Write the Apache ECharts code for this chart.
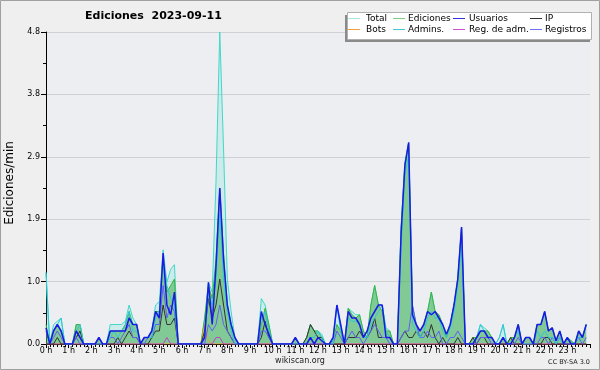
<!DOCTYPE html>
<html><head><meta charset="utf-8">
<script src="https://cdn.jsdelivr.net/npm/echarts@6/dist/echarts.min.js"></script>
<style>html,body{margin:0;padding:0;background:#efefef}#c{width:600px;height:370px}</style>
</head><body><div id="c"></div>
<script>
// 10-minute slots, 6 per hour, 24 hours
const hourLabels = ['0','1','2','3','4','5','6','7','8','9','10','11','12','13','14','15','16','17','18','19','20','21','22','23'];
const yTicks = [0, 0.96, 1.92, 2.88, 3.84, 4.8];
const legendNames = ['Total', 'Ediciones', 'Usuarios', 'IP', 'Bots', 'Admins.', 'Reg. de adm.', 'Registros'];

const total = [
1.1,0,0.3,0.35,0.4,0, 0,0,0.3,0.3,0,0, 0,0,0.1,0,0,0.3, 0.3,0.3,0.3,0.35,0.6,0.4,
0.3,0,0.1,0.1,0.2,0.6, 0.65,1.45,0.95,1.15,1.22,0, 0,0,0,0,0,0, 0.4,0.95,0.8,2.5,4.8,3.0,
1.0,0.5,0.1,0,0,0, 0,0,0,0.7,0.6,0.3, 0,0,0,0,0,0, 0.1,0,0,0.1,0.3,0.2,
0.2,0.15,0,0,0.1,0.6, 0.3,0,0.55,0.5,0.45,0.45, 0.2,0.1,0.6,0.9,0.6,0.6, 0.25,0.2,0,0,1.8,2.8,
3.1,0.5,0.3,0.2,0.3,0.5, 0.8,0.5,0.45,0.3,0.15,0.3, 0.6,1.0,1.8,0,0,0.1, 0.1,0.3,0.25,0.2,0.1,0,
0.1,0.3,0,0.1,0.1,0.3, 0,0.1,0.1,0,0.3,0.3, 0.5,0.2,0.25,0.05,0.2,0, 0.1,0.05,0,0.2,0.1,0.3];
const ediciones = [
0.3,0,0.2,0.3,0.2,0, 0,0,0.3,0.3,0,0, 0,0,0.1,0,0,0.2, 0.2,0.2,0.2,0.3,0.5,0.3,
0.3,0,0.1,0.1,0.2,0.5, 0.5,1.35,0.8,0.9,1.0,0, 0,0,0,0,0,0, 0.4,0.9,0.7,1.3,2.4,1.4,
0.6,0.3,0.1,0,0,0, 0,0,0,0.3,0.55,0.3, 0,0,0,0,0,0, 0.1,0,0,0.1,0.3,0.2,
0.2,0.1,0,0,0.05,0.3, 0.2,0,0.55,0.45,0.4,0.45, 0.2,0.1,0.6,0.9,0.6,0.5, 0.2,0.2,0,0,1.8,2.75,
3.1,0.6,0.3,0.2,0.3,0.5, 0.8,0.5,0.45,0.3,0.1,0.3, 0.6,1.0,1.8,0,0,0.1, 0.1,0.2,0.2,0.2,0.1,0,
0,0.1,0,0.1,0.1,0.3, 0,0.1,0.1,0,0.3,0.3, 0.5,0.2,0.25,0.05,0.2,0, 0.1,0.05,0,0.2,0.1,0.3];
const usuarios = [
0.25,0,0.2,0.3,0.2,0, 0,0,0.2,0.1,0,0, 0,0,0.1,0,0,0.2, 0.2,0.2,0.2,0.2,0.4,0.3,
0.3,0,0.1,0.1,0.2,0.5, 0.4,1.4,0.6,0.45,0.8,0, 0,0,0,0,0,0, 0.1,0.95,0.3,1.2,2.4,1.3,
0.6,0.3,0.1,0,0,0, 0,0,0,0.5,0.3,0.15, 0,0,0,0,0,0, 0.1,0,0,0,0.1,0,
0.1,0.05,0,0,0.1,0.6, 0.3,0,0.5,0.4,0.4,0.3, 0.1,0.2,0.4,0.5,0.6,0.6, 0.1,0.1,0,0,1.7,2.75,
3.1,0.45,0.3,0.2,0.3,0.5, 0.45,0.5,0.4,0.3,0.15,0.3, 0.6,1.0,1.8,0,0,0, 0.1,0.2,0.2,0.1,0.1,0,
0,0.1,0,0,0.1,0.3, 0,0.1,0.1,0,0.3,0.3, 0.5,0.2,0.25,0.05,0.2,0, 0.1,0,0,0.2,0.1,0.3];
const ip = [
0,0,0,0.1,0,0, 0,0,0.1,0.2,0,0, 0,0,0,0,0,0, 0,0.1,0,0.1,0.2,0.1,
0.1,0,0,0,0.1,0.2, 0.2,0.6,0.3,0.3,0.4,0, 0,0,0,0,0,0, 0.2,0.7,0.4,0.6,1.0,0.6,
0.2,0.1,0,0,0,0, 0,0,0,0.1,0.35,0.1, 0,0,0,0,0,0, 0,0,0,0.1,0.3,0.2,
0.1,0.1,0,0,0,0, 0,0,0.1,0.1,0.1,0.2, 0.1,0.1,0.2,0.4,0.1,0.1, 0.1,0.1,0,0,0.1,0.2,
0.1,0.1,0.2,0.1,0.2,0.1, 0.3,0.1,0,0.1,0,0, 0,0.1,0,0,0,0.1, 0,0.1,0.1,0,0,0,
0,0,0,0.1,0,0, 0,0.1,0.1,0,0,0, 0.1,0.1,0,0,0,0, 0,0,0,0,0,0];
const bots = [
0,0,0,0,0,0, 0,0,0,0,0,0, 0,0,0,0,0,0, 0,0,0,0,0,0,
0,0,0,0,0,0, 0,0,0,0,0,0, 0,0,0,0,0,0, 0.3,0.05,0,0,0,0,
0,0,0,0,0,0, 0,0,0,0,0,0, 0,0,0,0,0,0, 0,0,0,0,0,0,
0,0,0,0,0,0, 0,0,0,0,0,0, 0,0,0,0,0,0, 0,0,0,0,0,0,
0,0,0,0,0,0, 0,0,0,0,0,0, 0,0,0,0,0,0, 0,0,0,0,0,0,
0,0,0,0,0,0, 0,0,0,0,0,0, 0,0,0,0,0,0, 0,0,0,0,0,0];
const admins = [
1.1,0,0.2,0.3,0.4,0, 0,0,0.2,0.3,0,0, 0,0,0,0,0,0.1, 0.2,0.1,0.2,0.3,0.5,0.2,
0.2,0,0.1,0.1,0.1,0.4, 0.5,1.3,0.9,0.7,0.6,0, 0,0,0,0,0,0, 0.1,0.8,0.6,1.0,2.0,1.0,
0.5,0.2,0,0,0,0, 0,0,0,0.4,0.5,0.2, 0,0,0,0,0,0, 0,0,0,0,0.1,0.1,
0.2,0.1,0,0,0,0.6, 0.2,0,0.4,0.35,0.35,0.3, 0.1,0.1,0.3,0.4,0.5,0.6, 0.2,0.1,0,0,1.5,2.6,
2.9,0.3,0.2,0.1,0.2,0.4, 0.5,0.4,0.4,0.2,0.1,0.25, 0.5,0.9,1.5,0,0,0, 0.1,0.3,0.2,0.1,0.1,0,
0.1,0.3,0,0,0.1,0.2, 0,0,0,0,0.2,0.1, 0.2,0.1,0.1,0,0.1,0, 0.1,0,0,0.1,0.1,0.3];
const regAdm = [
0,0,0,0,0,0, 0,0,0,0,0,0, 0,0,0,0,0,0, 0,0,0,0,0,0,
0,0,0,0,0,0, 0,0,0.1,0,0,0, 0,0,0,0,0,0, 0,0,0,0.1,0.1,0,
0,0,0,0,0,0, 0,0,0,0,0,0, 0,0,0,0,0,0, 0,0,0,0,0,0,
0,0,0,0,0,0, 0,0,0,0,0,0, 0,0,0,0,0,0, 0,0,0,0,0,0,
0,0,0,0,0,0, 0,0,0,0,0,0, 0,0,0,0,0,0, 0,0,0,0,0,0,
0,0,0,0,0,0, 0,0,0,0,0,0, 0,0,0,0,0,0, 0,0,0,0,0,0];
const registros = [
0.2,0,0.1,0.2,0.1,0, 0,0,0.1,0,0,0, 0,0,0,0,0,0.1, 0.1,0,0.1,0.2,0.3,0.1,
0.1,0,0,0.1,0.1,0.3, 0.3,0.9,0.4,0.6,0.5,0, 0,0,0,0,0,0, 0,0.3,0.2,0.3,0.6,0.3,
0.2,0.1,0,0,0,0, 0,0,0,0.2,0.2,0.1, 0,0,0,0,0,0, 0,0,0,0,0,0,
0,0,0,0,0,0.2, 0.1,0,0.1,0.2,0.1,0.1, 0,0.1,0.2,0.3,0.2,0.1, 0.1,0,0,0,0.1,0.2,
0.2,0.6,0.3,0.1,0.1,0.2, 0.1,0.1,0.2,0,0,0.1, 0.1,0.2,0.1,0,0,0, 0,0.1,0.1,0.1,0,0,
0,0.1,0,0,0,0.1, 0,0,0,0,0,0.1, 0.1,0,0.1,0,0.1,0, 0,0,0,0.1,0,0.1];

const FONT = 'DejaVu Sans';
const slotsPerHour = 6;
const pts = arr => arr.map((v, i) => [i / slotsPerHour, v]);

function line(name, arr, color, width, area) {
  const s = {
    name, type: 'line', data: pts(arr), symbol: 'none', silent: true,
    lineStyle: { color, width }, itemStyle: { color }, animation: false
  };
  if (area) s.areaStyle = { color: area, opacity: 1 };
  return s;
}

// legend drawn as graphic (4 columns x 2 rows)
const legendColors = ['#a8e6e2', '#80cc80', '#3333dd', '#333333', '#f0a040', '#40c8d8', '#d050d0', '#7070f0'];
const legLineX = [348, 393, 453, 530];
const legTextX = [366, 408, 469, 545];
const legRowY = [18.5, 29.5];
const legendGraphics = [];
legendNames.forEach((n, k) => {
  const col = k % 4, row = Math.floor(k / 4);
  legendGraphics.push({ type: 'line', z: 20, shape: { x1: legLineX[col], y1: legRowY[row], x2: legLineX[col] + 12, y2: legRowY[row] },
    style: { stroke: legendColors[k], lineWidth: 1 } });
  legendGraphics.push({ type: 'text', z: 20, x: legTextX[col], y: legRowY[row],
    style: { text: n, fontFamily: FONT, fontSize: 9, fill: '#000', textVerticalAlign: 'middle' } });
});

const chart = echarts.init(document.getElementById('c'), null, { renderer: 'canvas' });
chart.setOption({
  backgroundColor: '#efefef',
  animation: false,
  grid: { left: 46, right: 10, top: 32, bottom: 26, show: true, backgroundColor: '#eceef1', borderWidth: 0 },
  xAxis: {
    type: 'value', min: 0, max: 24, interval: 1,
    axisLine: { lineStyle: { color: '#000', width: 1 } },
    axisTick: { show: true, length: 4, lineStyle: { color: '#000' } },
    minorTick: { show: true, splitNumber: 6, length: 3, lineStyle: { color: '#000' } },
    splitLine: { show: false },
    axisLabel: { fontFamily: FONT, fontSize: 8, color: '#000', margin: 3,
      formatter: v => (v < 24 ? hourLabels[v] + ' h' : '') }
  },
  yAxis: {
    type: 'value', min: yTicks[0], max: yTicks[5], interval: yTicks[1],
    axisLine: { show: true, lineStyle: { color: '#000', width: 1 } },
    axisTick: { show: true, length: 5, lineStyle: { color: '#000' } },
    minorTick: { show: true, splitNumber: 2, length: 3, lineStyle: { color: '#000' } },
    splitLine: { show: true, lineStyle: { color: '#cfd1d4', width: 1 } },
    axisLabel: { fontFamily: FONT, fontSize: 8, color: '#000', margin: 6,
      formatter: v => v.toFixed(1) }
  },
  graphic: [
    { type: 'rect', z: 1, shape: { x: 0.5, y: 0.5, width: 599, height: 369 }, style: { fill: 'none', stroke: '#a0a0a0', lineWidth: 1 } },
    { type: 'rect', z: 1, shape: { x: 345, y: 15, width: 245, height: 27 }, style: { fill: '#8a8a8a' } },
    { type: 'rect', z: 2, shape: { x: 347.5, y: 12.5, width: 244, height: 27 }, style: { fill: '#ffffff', stroke: '#b0b0b0', lineWidth: 1 } },
    { type: 'text', z: 10, x: 85, y: 16, style: { text: 'Ediciones  2023-09-11', fontFamily: FONT, fontSize: 11, fontWeight: 'bold', fill: '#000', textVerticalAlign: 'middle' } },
    { type: 'text', z: 10, x: 10, y: 183, rotation: Math.PI / 2, style: { text: 'Ediciones/min', fontFamily: FONT, fontSize: 12, fill: '#000', textAlign: 'center', textVerticalAlign: 'middle' } },
    { type: 'text', z: 10, x: 300, y: 361, style: { text: 'wikiscan.org', fontFamily: FONT, fontSize: 8, fill: '#222', textAlign: 'center', textVerticalAlign: 'middle' } },
    { type: 'text', z: 10, x: 590, y: 362, style: { text: 'CC BY-SA 3.0', fontFamily: FONT, fontSize: 6.5, fill: '#222', textAlign: 'right', textVerticalAlign: 'middle' } }
  ].concat(legendGraphics),
  series: [
    line('Total', total, '#40d8c8', 1, 'rgba(64,224,208,0.18)'),
    line('Ediciones', ediciones, '#3cb43c', 1, 'rgba(60,170,70,0.52)'),
    line('Bots', bots, '#f0a030', 1),
    line('Reg. de adm.', regAdm, '#c040c8', 1),
    line('IP', ip, '#333333', 1),
    line('Registros', registros, '#6060f0', 1),
    line('Admins.', admins, '#30c8d8', 1),
    line('Usuarios', usuarios, '#1a1ae6', 1.5)
  ]
});
</script></body></html>
